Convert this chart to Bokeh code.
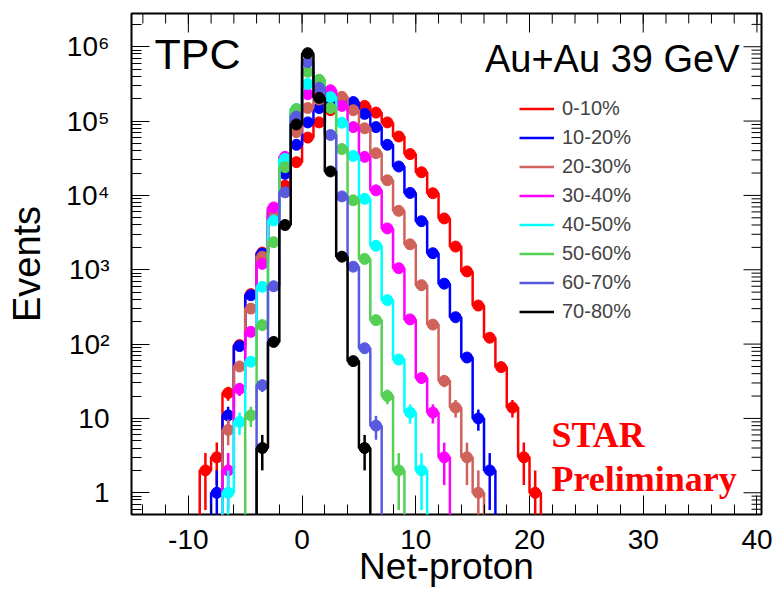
import numpy as np
from bokeh.plotting import figure
from bokeh.models import Range1d, FixedTicker, Label, Legend, LegendItem
from bokeh.embed import file_html
from bokeh.resources import INLINE

# ---------------- data ----------------
centralities = ["0-10%", "10-20%", "20-30%", "30-40%", "40-50%", "50-60%", "60-70%", "70-80%"]
colors = ["#ff0000", "#0000ff", "#d0625c", "#ff00ff", "#00ffff", "#55d055", "#5a5ae0", "#000000"]
first_bin = [-9, -8, -7, -7, -7, -5, -4, -4]   # net-proton value of the first filled bin

counts_0_10 = [2, 3, 22, 97, 470, 1700, 5200, 13500, 28000, 60000, 96000, 140000, 170000,
               175000, 160000, 130000, 96000, 62000, 36000, 20500, 10700, 4900, 2050, 950,
               330, 122, 49, 14, 3, 1]
counts_10_20 = [1, 11, 94, 455, 1650, 6500, 19500, 48000, 96000, 150000, 175000, 185000,
                180000, 125000, 83000, 48000, 24500, 10800, 4500, 1670, 650, 230, 66, 10, 2]
counts_20_30 = [7, 50, 300, 1500, 6000, 27000, 71000, 150000, 195000, 215000, 212000, 140000,
                80000, 37000, 16000, 6200, 2200, 620, 183, 32, 14, 3, 1]
counts_30_40 = [2, 25, 146, 1200, 6900, 33000, 130000, 230000, 255000, 260000, 160000, 83000,
                33000, 11700, 3600, 1050, 215, 35, 12, 3]
counts_40_50 = [1, 9, 58, 590, 4600, 31000, 145000, 315000, 290000, 210000, 95000, 34000,
                9000, 2100, 390, 62, 12, 2]
counts_50_60 = [11, 180, 2350, 24000, 145000, 460000, 360000, 150000, 42000, 8600, 1400,
                210, 20, 2]
counts_60_70 = [28, 600, 11000, 115000, 620000, 280000, 65000, 9700, 1100, 88, 8]
counts_70_80 = [4, 107, 4000, 90000, 820000, 205000, 21000, 1500, 59, 4]

x_tick_values = [-10, 0, 10, 20, 30, 40]
x_tick_labels = ["-10", "0", "10", "20", "30", "40"]
y_tick_values = [1, 10, 100, 1000, 10000, 100000, 1000000]
y_tick_labels = ["1", "10", "10\u00b2", "10\u00b3", "10\u2074", "10\u2075", "10\u2076"]

all_counts = [counts_0_10, counts_10_20, counts_20_30, counts_30_40,
              counts_40_50, counts_50_60, counts_60_70, counts_70_80]

# ---------------- figure ----------------
X_MIN, X_MAX = -15, 40.4
Y_MIN, Y_MAX = 0.51, 2.8e6
FLOOR = 1e-3

p = figure(width=773, height=597, x_range=Range1d(X_MIN, X_MAX), y_range=Range1d(Y_MIN, Y_MAX),
           y_axis_type="log", output_backend="svg", toolbar_location=None,
           min_border_left=131, min_border_right=12, min_border_top=13, min_border_bottom=83)
p.grid.visible = False
p.background_fill_color = "white"
p.border_fill_color = "white"
p.outline_line_color = "black"
p.outline_line_width = 2

x_minor = list(range(-14, 41, 2))
y_minor = []
for d in range(-1, 7):
    for m in range(2, 10):
        v = m * 10.0 ** d
        if Y_MIN <= v <= Y_MAX:
            y_minor.append(v)

def style_axis(ax, major_len):
    ax.axis_line_color = None
    ax.major_tick_in = major_len
    ax.major_tick_out = 0
    ax.minor_tick_in = 10
    ax.minor_tick_out = 0
    ax.major_tick_line_color = "black"
    ax.minor_tick_line_color = "black"
    ax.major_tick_line_width = 1
    ax.minor_tick_line_width = 1
    ax.major_label_text_font = "Liberation Sans"
    ax.major_label_text_font_size = "28px"
    ax.major_label_text_color = "black"
    ax.axis_label_text_font = "Liberation Sans"
    ax.axis_label_text_font_style = "normal"
    ax.axis_label_text_color = "black"

xax = p.xaxis[0]
xax.ticker = FixedTicker(ticks=x_tick_values, minor_ticks=x_minor)
xax.major_label_overrides = dict(zip(x_tick_values, x_tick_labels))
style_axis(xax, 19)
xax.major_label_standoff = 15
xax.axis_label = "Net-proton"
xax.axis_label_text_font_size = "37px"
xax.axis_label_standoff = -6

yax = p.yaxis[0]
yax.ticker = FixedTicker(ticks=y_tick_values, minor_ticks=y_minor)
yax.major_label_overrides = dict(zip(y_tick_values, y_tick_labels))
style_axis(yax, 18)
yax.major_label_standoff = 22
yax.axis_label = "Events"
yax.axis_label_text_font_size = "38px"
yax.axis_label_standoff = 15

# ticks on the top and right edges of the frame (ROOT style), drawn inward
tick_style = dict(line_color="black", line_width=1, length_units="screen")
p.ray(x=x_tick_values, y=[Y_MAX] * len(x_tick_values), length=19, angle=-np.pi / 2, **tick_style)
p.ray(x=x_minor, y=[Y_MAX] * len(x_minor), length=10, angle=-np.pi / 2, **tick_style)
p.ray(x=[X_MAX] * len(y_tick_values), y=y_tick_values, length=18, angle=np.pi, **tick_style)
p.ray(x=[X_MAX] * len(y_minor), y=y_minor, length=10, angle=np.pi, **tick_style)

# ---------------- histograms ----------------
legend_items = []
for label, color, start, vals in zip(centralities, colors, first_bin, all_counts):
    vals = np.asarray(vals, dtype=float)
    n = len(vals)
    edges = np.arange(start, start + n + 1, dtype=float)
    xs = np.repeat(edges, 2)
    ys = np.concatenate([[FLOOR], np.repeat(vals, 2), [FLOOR]])
    line = p.line(xs, ys, line_color=color, line_width=2.5)
    centers = edges[:-1] + 0.5
    err = np.sqrt(vals)
    lo = np.maximum(vals - err, FLOOR)
    hi = vals + err
    p.segment(x0=centers, y0=lo, x1=centers, y1=hi, line_color=color, line_width=2.5)
    p.scatter(centers, vals, size=11, marker="circle", fill_color=color, line_color=color)
    legend_items.append(LegendItem(label=label, renderers=[line]))

legend = Legend(items=legend_items, location=(388, 191), padding=0, margin=0, spacing=6,
                glyph_width=35, glyph_height=23, label_height=23, label_standoff=8,
                label_text_font="Liberation Sans", label_text_font_size="20px",
                background_fill_alpha=0, border_line_color=None)
p.add_layout(legend, "center")

# ---------------- texts ----------------
def add_text(text, x, y, size, font="Liberation Sans", style="normal", color="black",
             align="left"):
    p.add_layout(Label(x=x, y=y, x_units="screen", y_units="screen", text=text,
                       text_font=font, text_font_size=size, text_font_style=style,
                       text_color=color, text_align=align, text_baseline="alphabetic"))

add_text("TPC", 23, 461, "43px")
add_text("Au+Au 39 GeV", 608, 456, "38px", align="right")
add_text("STAR", 420, 80, "36px", font="Liberation Serif", style="bold", color="#ff0000")
add_text("Preliminary", 420, 36, "36px", font="Liberation Serif", style="bold", color="#ff0000")

open("out.html", "w").write(file_html(p, INLINE))
